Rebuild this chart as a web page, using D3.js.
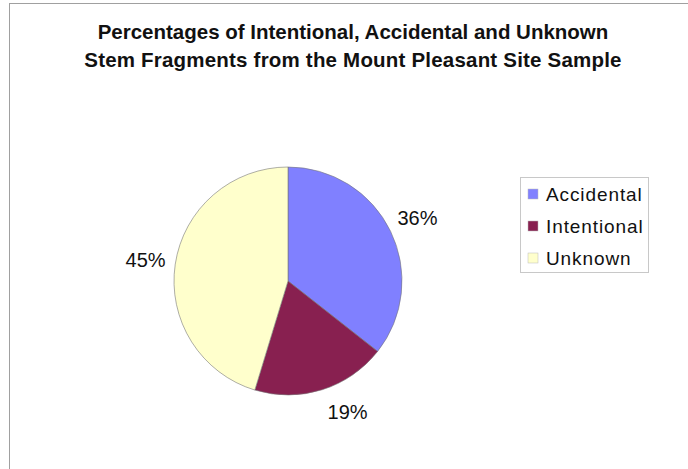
<!DOCTYPE html>
<html>
<head>
<meta charset="utf-8">
<script src="https://cdn.jsdelivr.net/npm/d3@7"></script>
<style>
  html, body { margin: 0; padding: 0; background: #fff; }
  svg { display: block; }
  text { font-family: "Liberation Sans", Arial, sans-serif; fill: #111; }
</style>
</head>
<body>
<svg id="chart" width="688" height="469"></svg>
<script>
const titleLines = [
  "Percentages of Intentional, Accidental and Unknown",
  "Stem Fragments from the Mount Pleasant Site Sample"
];
const categories = ["Accidental", "Intentional", "Unknown"];
const values = [35.6, 19.1, 45.3];
const labels = ["36%", "19%", "45%"];
const colors = ["#8080ff", "#882050", "#ffffcc"];

// layout only: nudge (degrees) applied to the label placement of each slice
const labelNudgeDeg = [0, -7, 0];

const svg = d3.select("#chart");

svg.append("rect")
  .attr("x", 9.5).attr("y", 3.5)
  .attr("width", 700).attr("height", 500)
  .attr("fill", "#fff").attr("stroke", "#a0a0a0").attr("stroke-width", 1);

svg.selectAll("text.title")
  .data(titleLines)
  .join("text")
  .attr("class", "title")
  .attr("x", 353)
  .attr("y", (d, i) => 39 + i * 28)
  .attr("text-anchor", "middle")
  .attr("font-size", 20.5)
  .attr("font-weight", "bold")
  .attr("letter-spacing", (d, i) => i === 1 ? 0.2 : 0)
  .text(d => d);

const cx = 288, cy = 281, r = 114;
const data = categories.map((c, i) => ({ cat: c, value: values[i], label: labels[i], color: colors[i], i }));
const pie = d3.pie().value(d => d.value).sort(null);
const arcs = pie(data);
const arc = d3.arc().innerRadius(0).outerRadius(r);
const lr = 144;

const g = svg.append("g").attr("transform", `translate(${cx},${cy})`);
g.selectAll("path")
  .data(arcs)
  .join("path")
  .attr("d", arc)
  .attr("fill", d => d.data.color)
  .attr("stroke", "#777")
  .attr("stroke-width", 0.6);

g.selectAll("text.lbl")
  .data(arcs)
  .join("text")
  .attr("class", "lbl")
  .attr("transform", d => {
    const a = (d.startAngle + d.endAngle) / 2 + labelNudgeDeg[d.data.i] * Math.PI / 180;
    return `translate(${lr * Math.sin(a)},${-lr * Math.cos(a)})`;
  })
  .attr("text-anchor", "middle")
  .attr("dy", "0.35em")
  .attr("font-size", 20)
  .text(d => d.data.label);

const legend = svg.append("g");
legend.append("rect")
  .attr("x", 520.5).attr("y", 177.5)
  .attr("width", 128).attr("height", 95)
  .attr("fill", "#fff").attr("stroke", "#c8c8c8");

const items = legend.selectAll("g.item")
  .data(data)
  .join("g")
  .attr("class", "item")
  .attr("transform", (d, i) => `translate(528, ${194 + i * 32})`);
items.append("rect")
  .attr("x", 0).attr("y", -5)
  .attr("width", 10).attr("height", 10)
  .attr("fill", d => d.color)
  .attr("stroke", "#bbb").attr("stroke-width", 0.5);
items.append("text")
  .attr("x", 18).attr("y", 7)
  .attr("font-size", 19)
  .attr("letter-spacing", 0.9)
  .text(d => d.cat);
</script>
</body>
</html>
